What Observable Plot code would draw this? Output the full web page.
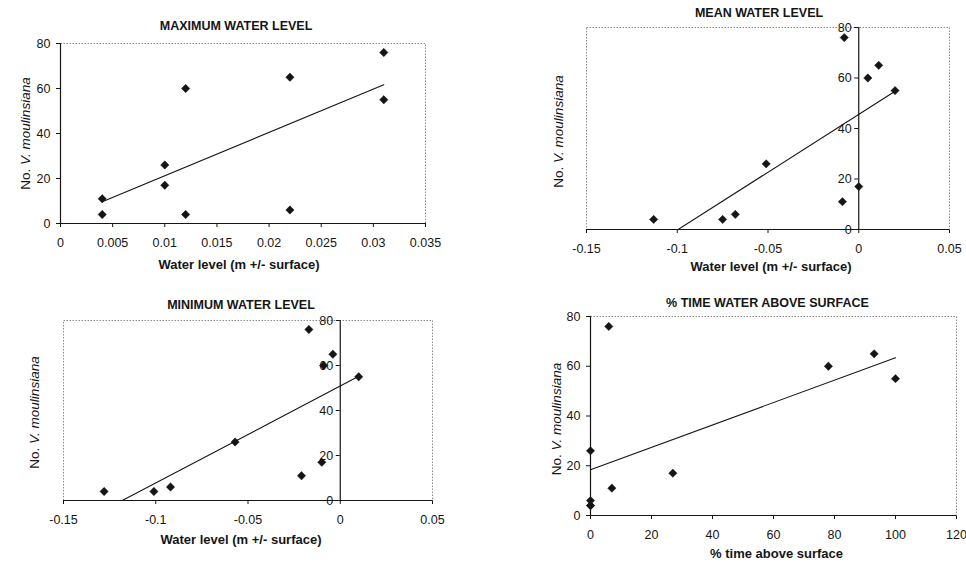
<!DOCTYPE html>
<html><head><meta charset="utf-8">
<script src="https://cdn.jsdelivr.net/npm/d3@7"></script>
<script src="https://cdn.jsdelivr.net/npm/@observablehq/plot@0.6"></script>
<style>
body{margin:0;background:#fff;}
#chart{position:relative;width:966px;height:562px;overflow:hidden;background:#fff;}
#chart svg{position:absolute;}
</style></head><body><div id="chart"></div>
<script>
// Data
const counts     = [76, 65, 60, 55, 26, 17, 11, 6, 4, 4];
const maxLevel   = [0.031, 0.022, 0.012, 0.031, 0.010, 0.010, 0.004, 0.022, 0.004, 0.012];
const meanLevel  = [-0.008, 0.011, 0.005, 0.020, -0.051, 0.000, -0.009, -0.068, -0.075, -0.113];
const minLevel   = [-0.017, -0.004, -0.009, 0.010, -0.057, -0.010, -0.021, -0.092, -0.101, -0.128];
const pctTime    = [6, 93, 78, 100, 0, 27, 7, 0, 0, 0];

const yTicks     = [0, 20, 40, 60, 80];
const maxTicks   = [0, 0.005, 0.01, 0.015, 0.02, 0.025, 0.03, 0.035];
const levelTicks = [-0.15, -0.1, -0.05, 0, 0.05];
const pctTicks   = [0, 20, 40, 60, 80, 100, 120];

const titles  = ["MAXIMUM WATER LEVEL", "MEAN WATER LEVEL", "MINIMUM WATER LEVEL", "% TIME WATER ABOVE SURFACE"];
const xLabels = ["Water level (m +/- surface)", "Water level (m +/- surface)", "Water level (m +/- surface)", "% time above surface"];
const yLabel  = "No. V. moulinsiana";

// Layout per panel
const panels = [
  {xs: maxLevel,  ticks: maxTicks,   title: titles[0], xLabel: xLabels[0], yAxisAtZero: false,
   left: 0,   top: 0,   m: [43, 58, 58, 60],  tdx: -7, tdy: -18, xdx: -4, xdy: 41, ydx: -35, ydy: 0},
  {xs: meanLevel, ticks: levelTicks, title: titles[1], xLabel: xLabels[1], yAxisAtZero: true,
   left: 483, top: 0,   m: [27, 17, 52, 103], tdx: -9, tdy: -15, xdx: 3,  xdy: 37, ydx: -28, ydy: 3},
  {xs: minLevel,  ticks: levelTicks, title: titles[2], xLabel: xLabels[2], yAxisAtZero: true,
   left: 0,   top: 281, m: [39, 51, 62, 63],  tdx: -7, tdy: -16, xdx: -7, xdy: 39, ydx: -29, ydy: 2},
  {xs: pctTime,   ticks: pctTicks,   title: titles[3], xLabel: xLabels[3], yAxisAtZero: false,
   left: 483, top: 281, m: [35, 10, 47, 107], tdx: -6, tdy: -14, xdx: 3,  xdy: 38, ydx: -34, ydy: 3}
];

const ink = "#151515";
const fmt = d => String(+d.toFixed(3));
const chart = document.getElementById("chart");

for (const p of panels) {
  const rows = counts.map((c, i) => ({x: p.xs[i], y: c}));
  const xDomain = [p.ticks[0], p.ticks[p.ticks.length - 1]];
  const W = 483, H = 281;
  const frameW = W - p.m[1] - p.m[3];
  const tickLen = 4 * (xDomain[1] - xDomain[0]) / frameW;
  const marks = [
    Plot.frame({stroke: "#8a8a8a", strokeDasharray: "1.5,1.5", strokeWidth: 1}),
    Plot.ruleY([0], {stroke: ink, strokeWidth: 1.2}),
    Plot.ruleX([p.yAxisAtZero ? 0 : xDomain[0]], {stroke: ink, strokeWidth: 1.2}),
    Plot.linearRegressionY(rows, {x: "x", y: "y", ci: 0, stroke: ink, strokeWidth: 1.1, clip: true}),
    Plot.dot(rows, {x: "x", y: "y", symbol: "square", rotate: 45, r: 3.3, fill: ink, stroke: ink, strokeWidth: 0.5}),
    Plot.text([p.title], {frameAnchor: "top", textAnchor: "middle", lineAnchor: "middle", dx: p.tdx, dy: p.tdy,
      fontWeight: "bold", fontSize: 12.5}),
    Plot.text([p.xLabel], {frameAnchor: "bottom", textAnchor: "middle", lineAnchor: "middle", dx: p.xdx, dy: p.xdy,
      fontWeight: "bold", fontSize: 13}),
    Plot.text([yLabel], {frameAnchor: "left", textAnchor: "middle", lineAnchor: "middle", dx: p.ydx, dy: p.ydy,
      rotate: -90, fontSize: 13.5})
  ];
  if (p.yAxisAtZero) {
    marks.push(
      Plot.ruleY(yTicks, {y: d => d, x1: 0, x2: -tickLen, stroke: ink, strokeWidth: 1}),
      Plot.text(yTicks, {x: 0, y: d => d, text: d => String(d), textAnchor: "end", dx: -7, fontSize: 12.5})
    );
  }
  const svg = Plot.plot({
    width: W, height: H,
    marginTop: p.m[0], marginRight: p.m[1], marginBottom: p.m[2], marginLeft: p.m[3],
    style: {fontFamily: "'Liberation Sans', Arial, sans-serif", fontSize: "12.5px", color: ink, background: "transparent"},
    x: {domain: xDomain, ticks: p.ticks, tickFormat: fmt, tickSize: 4, tickPadding: 11, label: null},
    y: p.yAxisAtZero
      ? {domain: [0, 80], axis: null}
      : {domain: [0, 80], ticks: yTicks, tickSize: 4, tickPadding: 6, label: null},
    marks
  });
  svg.style.left = p.left + "px";
  svg.style.top = p.top + "px";
  // axis tick labels at the reference size
  svg.querySelectorAll('g[aria-label$="tick label"] text').forEach(t => { t.style.fontSize = "12.5px"; });
  // italicise the species name in the y label
  svg.querySelectorAll("text").forEach(t => {
    if (t.textContent === yLabel) {
      t.textContent = "";
      const a = document.createElementNS("http://www.w3.org/2000/svg", "tspan");
      a.textContent = "No. ";
      const b = document.createElementNS("http://www.w3.org/2000/svg", "tspan");
      b.textContent = "V. moulinsiana";
      b.setAttribute("font-style", "italic");
      t.appendChild(a); t.appendChild(b);
    }
  });
  chart.appendChild(svg);
}
</script></body></html>
